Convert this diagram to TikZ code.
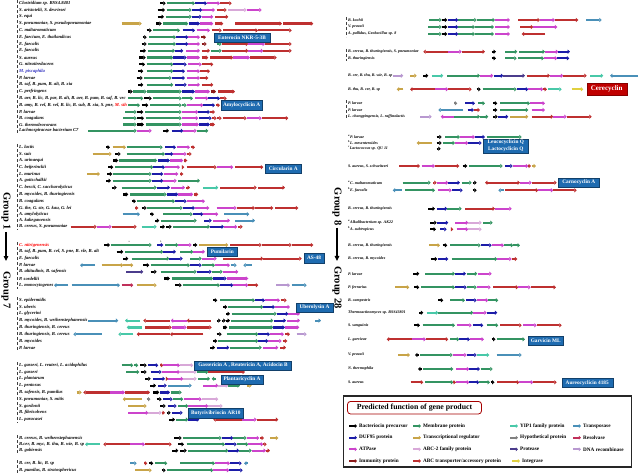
\documentclass[tikz,border=0pt]{standalone}
\usepackage{fontspec}
\setmainfont{Liberation Serif}
\usetikzlibrary{arrows.meta,positioning}

% gene product colours
\definecolor{pre}{HTML}{000000}
\definecolor{mem}{HTML}{349462}
\definecolor{duf}{HTML}{1C1CA8}
\definecolor{atp}{HTML}{CC44CC}
\definecolor{imm}{HTML}{8B1A1A}
\definecolor{trr}{HTML}{C8A448}
\definecolor{abt}{HTML}{D8A8D8}
\definecolor{abc}{HTML}{BE3030}
\definecolor{yip}{HTML}{48C8A8}
\definecolor{hyp}{HTML}{808080}
\definecolor{prt}{HTML}{4B3C8C}
\definecolor{itg}{HTML}{E0D040}
\definecolor{tsp}{HTML}{4A90B8}
\definecolor{rsv}{HTML}{C0305A}
\definecolor{rec}{HTML}{B898D0}
\definecolor{boxblue}{HTML}{1E6BB0}
\definecolor{boxred}{HTML}{C00000}
\definecolor{nameblue}{HTML}{3030C0}

\tikzset{
  gene/.style={line width=2.2pt, -{Triangle[length=2.4pt,width=4.2pt]}},
  strain/.style={anchor=west, inner sep=0pt, font=\fontsize{4.6}{5}\selectfont\bfseries\itshape},
  namebox/.style={fill=boxblue, draw=boxblue!60!black, text=white, align=center,
    font=\fontsize{5.3}{6}\selectfont\bfseries, inner sep=1.5pt, minimum height=9.5pt},
  grp/.style={font=\fontsize{10.5}{11}\selectfont\bfseries, inner sep=1pt, rotate=-90},
  blockline/.style={densely dashed, line width=0.5pt, black!75},
  grouparrow/.style={line width=1.1pt, -{Triangle[length=5pt,width=4.5pt]}},
  legarrow/.style={line width=2pt, -{Triangle[length=2.2pt,width=3.8pt]}},
  legtext/.style={anchor=west, inner sep=0pt, font=\fontsize{5.2}{6}\selectfont\bfseries},
}

\newcount\rowno
% #1 x of label, #2 y of row, #3 strain, #4 genes start/end/colour
\newcommand{\generow}[4]{%
  \global\advance\rowno by 1
  \node[strain] (s\the\rowno) at (#1,#2) {#3};
  \foreach \xs/\xe/\col in {#4}{\draw[gene,color=\col] (\xs,#2) -- (\xe,#2);}
}

\begin{document}
\begin{tikzpicture}[x=1pt, y=-1pt, >=Latex]
  \fill[white] (0,0) rectangle (640,476);
  \useasboundingbox (0,0) rectangle (640,476);

  % ---------------- left column ----------------
  \draw[blockline] (17.5,0.5) -- (17.5,134);
  \generow{19}{3.3}{Clostridium sp. BSS4.8401}{160/165.7/pre, 166.7/195/mem, 195/207/duf, 207/220/atp, 220/231.7/abc}
  \generow{19}{10}{S. aristotelii, S. devriesei}{157.7/165/pre, 166.7/191.7/mem, 192.3/202.3/duf, 202.3/215/atp, 216.7/226.7/abc, 228.3/246.7/abt, 246.7/261.7/atp}
  \generow{19}{16.8}{S. equi}{157.7/164/pre, 165.7/191.7/mem, 191.7/201.7/duf, 201.7/213.3/atp, 215/228.3/abc}
  \generow{19}{23.6}{S. pneumoniae, S. pseudopneumoniae}{121.7/141.7/trr, 156/161.7/pre, 163.3/188.3/mem, 189/200/duf, 200/213.3/atp, 215/223.3/abc, 235/282/abc, 283.3/313.3/abc}
  \generow{19}{30.4}{C. maltaromaticum}{146.7/151.7/pre, 153.3/180/mem, 182.7/195/duf, 196.7/210/atp, 211.7/221.7/abc, 223.3/258/abc, 258/291.7/abc}
  \generow{19}{37.2}{E. faecium, E. thailandicus}{142.7/146.7/pre, 149/176/mem, 176/188.3/duf, 188.3/200/atp, 201/206/imm}
  \generow{19}{44}{E. faecalis}{141.7/146.7/pre, 148.3/176/mem, 176/188.3/duf, 188.3/200/atp, 201.7/206.7/imm, 216.7/221.7/mem, 221.7/248.3/abc, 248.3/265/atp, 265/291.7/abc}
  \generow{19}{50.8}{E. faecalis}{140/146/pre, 147.7/175/mem, 175/183.3/duf, 186/200/atp, 201.7/210/abc, 210.7/221.7/mem, 222.3/248.3/abc, 248.3/263.3/atp, 263.3/291.7/abc}
  \generow{19}{57.6}{S. aureus}{139.3/145.7/pre, 146.7/173.3/mem, 173.3/186.7/duf, 186.7/200/atp, 201.7/208.3/abc, 210/233.3/abc, 233.3/250/atp, 250/276.7/abc}
  \generow{19}{64.4}{G. nitratireducens}{139.3/145/pre, 146.7/173.3/mem, 173.3/186.7/duf, 188.3/201.7/atp, 201.7/213.3/abc}
  \generow{19}{71.2}{\textcolor{nameblue}{M. piscaphila}}{138.3/143.3/pre, 146.7/173.3/mem, 173.3/185/duf, 186.7/200/atp, 200/210/abc}
  \generow{19}{78}{P. larvae}{136.7/142.7/pre, 144/171.7/mem, 171.7/185/duf, 186.7/200/atp, 200/208.3/abc}
  \generow{19}{84.8}{B. saf, B. pum, B. alt, B. xia}{138.3/143.3/pre, 146.7/173.3/mem, 175/186.7/duf, 188.3/200/atp, 201.7/213.3/abc}
  \generow{19}{91.6}{C. perfringens}{128.3/132.7/pre, 133.3/146.7/mem, 146.7/181.7/mem, 181.7/195/duf, 195/210/atp, 210.7/216/imm, 218.3/235/abc}
  \generow{19}{98.4}{B. aer, B. lic, B. par, B. alt, B. aer, B. pum, B. saf, B. vec}{128.3/143.3/mem, 144/151.7/pre, 153.3/181.7/mem, 181.7/193/mem, 195/208.3/atp, 208.3/220/duf, 220/226.7/abc}
  \generow{19}{105.2}{B. amy, B. vel, B. vel, B. lic, B. sub, B. xia, S. pne, \textcolor{red}{M. sth}}{128.3/140/mem, 141.7/148.3/pre, 150/181.7/mem, 181.7/186.7/mem, 186.7/203.3/atp, 203.3/215/duf, 216/220/abc}
  \generow{19}{112}{P. larvae}{125/136.7/mem, 137.3/143.3/pre, 145/181.7/mem, 181.7/198.3/atp, 198.3/210/duf, 210/215/abc}
  \generow{19}{118.2}{B. coagulans}{123.3/136.7/mem, 137.3/144/pre, 145.7/181.7/mem, 181.7/198.3/atp, 199.3/211.7/duf, 212.3/216.7/abc, 217.3/221.7/abc, 222.7/246.7/abc, 246.7/261.7/atp, 261.7/288.3/abc}
  \generow{19}{124.5}{G. thermoleovorans}{123.3/136.7/mem, 137.3/144/pre, 145.7/181.7/mem, 181.7/199/atp, 199/210/duf, 210/215/abc}
  \generow{19}{130.8}{Lachnospiraceae bacterium C7}{88.3/136.7/mem, 136.7/151.7/atp, 163.3/169/pre, 171.7/183.3/duf, 183.3/196.7/atp, 196.7/208.3/mem}

  \draw[blockline] (17.5,144) -- (17.5,229.5);
  \generow{19}{147.3}{L. lactis}{106/110/pre, 112.7/126/trr, 126.7/162.7/mem, 165/176/duf, 176.7/190/atp, 190.7/195/abc}
  \generow{19}{154}{S. suis}{92.7/111.7/trr, 115/120.7/pre, 126.7/165/mem, 165/173.3/duf, 173.3/186.7/atp, 187.3/191.7/abc}
  \generow{19}{160.5}{A. urinaequi}{113.3/118.3/pre, 119.3/157.3/mem, 158.3/170/duf, 170/183.3/atp, 184/187.3/abc}
  \generow{19}{167.2}{C. beijerinckii}{108.3/113.3/pre, 115/153.3/mem, 153.3/165/duf, 165/180/atp, 181.7/184.3/abc, 186.7/216.7/abc, 216.7/233.3/atp, 235/263.3/abc}
  \generow{19}{174}{L. murinus}{87.3/100/trr, 107.3/112.3/pre, 113.3/151.7/mem, 151.7/163.3/duf, 164/178.3/atp, 180/183.3/abc}
  \generow{19}{180.8}{A. gottschalkii}{106/111/pre, 112.7/151.7/mem, 151.7/163.3/duf, 163.3/176.7/atp, 178.3/200/mem}
  \generow{19}{187.6}{C. bescii, C. saccharolyticus}{111.7/116.7/pre, 121.7/156.7/mem, 157.3/170/duf, 170.7/185/atp, 186/190/abc, 203.3/218.3/yip, 220/256.7/abc, 258.3/285/abc}
  \generow{19}{194.4}{B. mycoides, B. thuringiensis}{123.3/128.3/pre, 130/166.7/mem, 166.7/178.3/duf, 178.3/193.3/atp, 194/198.3/abc}
  \generow{19}{201.2}{B. coagulans}{131.7/136/pre, 136.7/175/mem, 175/186.7/duf, 186.7/205/atp}
  \generow{19}{208}{G. the, G. ste, G. kau, G. lei}{135/138.3/abc, 141.7/146.7/pre, 146.7/182.7/mem, 182.7/195/duf, 195/209.3/atp, 216.7/236.7/atp, 236.7/255/abc, 255/273.3/abc, 275/298.3/abc}
  \generow{19}{214.2}{A. amylolyticus}{122.7/140/tsp, 150/154/pre, 163.3/192.7/mem, 192.7/203.3/duf, 203.3/218.3/atp, 224/249.3/tsp}
  \generow{19}{220.6}{A. kakegawensis}{155/159.3/pre, 160.7/196.7/mem, 204/211.7/duf, 213.3/230/atp, 235/255/tsp}
  \generow{19}{226.8}{B. cereus, S. pneumoniae}{70.7/96.7/abc, 96.7/111.7/atp, 111.7/136.7/abc, 141.7/156.7/yip, 160/165/pre, 166/171.7/pre, 173.3/210/mem, 210/224/duf, 224/237.3/atp, 238.3/242.7/abc}

  \draw[blockline] (17.5,242) -- (17.5,288.5);
  \generow{19}{245}{\textcolor{red}{C. nitrigenensis}}{104/110/pre, 110.7/151.7/mem, 157.3/163.3/duf, 165/178.3/mem, 178.3/191.7/atp, 193.3/197.3/pre, 199.3/228.3/trr, 230/261.7/abc, 261.7/291.7/abc, 291.7/313.3/abc}
  \node[font=\fontsize{2.5}{3}\selectfont, inner sep=0pt] (marka) at (129.3,241.6) {a};
  \node[font=\fontsize{2.5}{3}\selectfont, inner sep=0pt] (markb) at (160.7,241.2) {b};
  \generow{19}{251.8}{B. saf, B. pum, B. cel, S. pne, B. vle, B. alt}{116.7/123.3/pre, 125/163.3/mem, 163.3/176/duf, 180/193.3/mem, 193.3/205/atp}
  \generow{19}{258.6}{E. faecalis}{123.3/128.3/pre, 131.7/169.3/mem, 169.3/182.7/duf, 190/201.7/mem, 201.7/216.7/atp, 223.3/263.3/abc, 263.3/301.7/abc}
  \generow{19}{265.2}{P. larvae}{95/80/tsp, 101.7/123.3/trr, 123.3/133.3/trr, 143.3/149.3/pre, 150.7/190/mem, 190/201.7/duf, 201.7/215/mem, 215/230/atp, 230.7/236.7/tsp, 251.7/243.3/tsp}
  \generow{19}{271.8}{B. altitudinis, B. safensis}{126/143.3/prt, 150.7/156.7/pre, 160.7/196.7/mem, 196.7/211.7/duf, 211.7/222.7/mem, 222.7/238.3/atp}
  \generow{19}{278.5}{P. sordellii}{164/170/pre, 171.7/213.3/mem, 213.3/226.7/duf, 226.7/248.3/atp}
  \generow{19}{285.2}{L. monocytogenes}{68.3/54/tsp, 71.7/120/tsp, 121.7/133.3/rsv, 136.7/156.7/trr, 175/181.7/pre, 182.7/220/mem, 220/233.3/duf, 233.3/248.3/atp, 248.3/258.3/abc, 276/290/rec, 291.7/306.7/tsp}

  \draw[blockline] (17.5,297) -- (17.5,350.5);
  \generow{19}{300.3}{S. epidermidis}{213.3/217.3/pre, 220/255/mem, 255/265/duf, 265/280/atp, 280.7/286.7/abc}
  \generow{19}{307}{S. uberis}{223.3/227.3/pre, 228.3/263.3/mem, 263.3/275/duf, 275/290/atp}
  \generow{19}{313.8}{L. glycerini}{226/230/pre, 231.7/276.7/mem, 276.7/288.3/duf, 288.3/300/atp}
  \generow{19}{320.6}{B. mycoides, B. weihenstephanensis}{88.3/118.3/tsp, 140/125/yip, 170/143.3/abc, 186.7/170.7/atp, 210.7/186.7/abc, 216.7/220.7/pre, 221.7/225.7/pre, 226/230/pre, 230.7/273.3/mem, 274/286/duf, 286.7/300/atp, 315/321/tsp}
  \generow{19}{327.4}{B. thuringiensis, B. cereus}{141.7/126.7/yip, 145/171.7/abc, 171.7/186.7/atp, 186.7/211.7/abc, 222.7/227.3/pre, 229.3/273.3/mem, 273.3/285/duf, 285/299.3/atp}
  \generow{19}{334.2}{B. thuringiensis, B. cereus}{101.7/73.3/tsp, 133.3/118.3/yip, 170/136.7/abc, 203.3/170/abc, 216.7/221.7/pre, 226.7/258.3/mem, 258.3/270/duf, 270/284/atp, 285/290/abc, 296.7/306.7/rec}
  \generow{19}{341}{B. mycoides}{213.3/217.3/pre, 218.3/258.3/mem, 258.3/268.3/duf, 268.3/281.7/atp, 282.7/287.3/abc}
  \generow{19}{347.6}{P. larvae}{210/215/pre, 216.7/229.3/duf, 230/261.7/mem, 263.3/278.3/atp, 280/286/abc}

  \draw[blockline] (17.5,362) -- (17.5,423);
  \generow{19}{365.3}{L. gasseri, L. reuteri, L. acidophilus}{121.7/133.3/mem, 134/138.3/mem, 140/146.7/pre, 148.3/158.3/duf, 160/163.3/abc, 163.3/180/atp, 180/193.3/abt}
  \generow{19}{372}{L. gasseri}{126/139.3/mem, 140.7/146.7/pre, 150.7/161.7/duf, 161.7/180/atp, 180/196.7/abt, 196.7/208.3/mem, 208.3/245/abc}
  \generow{19}{378.8}{L. plantarum}{145/150.7/pre, 153.3/165/duf, 166/168.3/abc, 168.3/183.3/atp, 183.3/196.7/abt, 198.3/210/mem, 216/211.7/mem}
  \generow{19}{385.6}{L. pentosus}{150/156/pre, 158.3/166.7/duf, 168.3/191.7/tsp, 203.3/218.3/atp, 218.3/228.3/abt, 228.3/240/mem, 247.3/251.7/trr}
  \generow{19}{392.4}{B. safensis, B. pumilus}{76.7/81.7/trr, 110/83.3/abc, 110/125/atp, 125/150/abc, 153.3/159.3/pre, 160/170/duf, 170.7/181.7/mem}
  \generow{19}{399.2}{S. pneumoniae, S. mitis}{141.7/122.7/trr, 146.7/150.5/hyp, 156.7/161.7/pre, 163.3/172.7/duf, 173.3/183.3/mem, 184/201.7/atp, 201.7/218.3/abt}
  \generow{19}{406}{S. gordonii}{128.3/146.7/trr, 160/165.7/pre, 167.7/176.7/duf, 178.3/188.3/mem, 188.3/208.3/atp, 208.3/222.7/abt}
  \generow{19}{412.8}{B. fibrisolvens}{128.3/148.3/atp, 148.3/161.7/abt, 161.7/165/abc, 166.7/170.7/pre, 171.7/182.7/duf}
  \generow{19}{419.6}{L. paracasei}{169.3/175/pre, 176/188.3/mem, 188.3/199.3/duf, 241.7/213.3/abc, 241.7/256.7/atp, 256.7/278.3/abc}

  \draw[blockline] (17.5,435) -- (17.5,453.5);
  \generow{19}{438}{B. cereus, B. weihenstephanensis}{174/181.7/pre, 183.3/221.7/mem, 221.7/233.3/duf, 233.3/246.7/mem, 246.7/259.3/atp, 260/264/abc, 270/278.3/trr}
  \generow{19}{444.3}{B.cer, B. myc, B. thu, B. wie, B. sp}{100/85/yip, 130/103.3/abc, 130/145/atp, 145/171.7/abc, 178.3/184/pre, 186.7/225/mem, 225/236.7/duf, 236.7/248.3/mem, 248.3/263.3/atp, 263.3/266.7/abc}
  \generow{19}{450.6}{B. gobiensis}{172.3/178.3/pre, 180/186.7/pre, 188.3/228.3/mem, 228.3/239.3/duf, 239.3/251.7/mem, 251.7/266/atp, 266/270/abc}

  \draw[blockline] (17.5,460) -- (17.5,473.5);
  \generow{19}{463.3}{B. cer, B. lic, B. sp}{130/136.7/tsp, 144/147.3/abc, 149.3/153.3/pre, 155/167.3/mem, 180/215/mem, 215/230/atp, 230/241.7/duf, 248/244/tsp}
  \generow{19}{470.3}{B. pumilus, B. stratosphericus}{135/151.7/trr, 161.7/165.7/pre, 166.7/213.3/mem, 213.3/229.3/atp, 229.3/242.7/duf}

  % bacteriocin names, left column
  \node[namebox, minimum width=56pt] (enterocin) at (242,37.7) {Enterocin NKR-5-3B};
  \node[namebox, minimum width=40pt] (amylocyclicin) at (241.7,105.3) {Amylocyclicin A};
  \node[namebox, minimum width=36pt] (circularin) at (283.3,168.7) {Circularin A};
  \node[namebox, minimum width=30pt] (pumilarin) at (222.3,251.8) {Pumilarin};
  \node[namebox, minimum width=20pt] (as48) at (314,258) {AS-48};
  \node[namebox, minimum width=37pt] (uberolysin) at (314.5,307.6) {Uberolysin A};
  \node[namebox, minimum width=97pt] (gassericin) at (243,365.5) {Gassericin A , Reutericin A, Acidocin B};
  \node[namebox, minimum width=42pt] (plantaricyclin) at (242,379.5) {Plantaricyclin A};
  \node[namebox, minimum width=55pt] (butyrivibriocin) at (215.8,413.2) {Butyrivibriocin AR10};

  % ---------------- right column ----------------
  \begin{scope}[strain/.append style={font=\fontsize{4}{4.5}\selectfont\bfseries\itshape}]
  \draw[blockline] (346.5,17) -- (346.5,37);
  \generow{348}{20}{B. kochii}{429.3/441.7/mem, 441.7/447.3/pre, 448.3/458.3/duf, 458.3/476.7/mem, 476.7/495/mem, 495/510/atp, 518.3/540/abc, 540/555/atp, 555/578.3/abc, 586/601.7/tsp}
  \generow{348}{27}{V. pravaii}{428.3/441.7/mem, 441.7/447.3/pre, 448.3/458.3/duf, 458.3/475/mem, 475/494/mem, 495/510/atp, 520/533.3/abc, 533.3/557.3/atp}
  \generow{348}{34}{A. pallidus, Geobacillus sp. 8}{428.3/441.7/mem, 441.7/447.3/pre, 448.3/458.3/duf, 458.3/475/mem, 475/494/mem, 495/510/atp, 545/521.7/abc}

  \draw[blockline] (346.5,49) -- (346.5,61);
  \generow{348}{51.7}{B. cereus, B. thuringiensis, S. pneumoniae}{448.3/423.3/abc, 448.3/461.7/atp, 461.7/485/abc, 491.7/496/pre, 505/517.3/mem, 519.3/545/mem, 545/558.3/atp, 558.3/570/duf}
  \generow{348}{58.3}{B. thuringiensis}{491.7/496/pre, 505/516.7/mem, 518.3/544/mem, 544/557.3/atp, 557.3/569.3/duf}

  \generow{348}{75.7}{B. cer, B. thu, B. wie, B. sp}{392.7/403.3/rec, 410/416.7/trr, 423.3/428.3/pre, 431.7/443.3/yip, 447.3/480/mem, 480/493.3/atp, 494/503.3/duf, 503.3/525/prt, 526.7/550/abc, 550/563.3/atp, 563.3/586.7/abc, 590/603.3/yip, 638/610/tsp}
  \generow{348}{89.3}{B. thu, B. cer, B. sp}{403.3/396.7/trr, 435/410/abc, 435/448.3/atp, 448.3/471.7/abc, 476.7/480.7/pre, 482.7/516.7/mem, 516.7/528.3/duf, 528.3/543.3/atp, 543.3/547/abc, 548.3/561.7/yip, 571.7/583.3/itg}
  \node[namebox, fill=boxred, draw=boxred!70!black, minimum width=40pt, minimum height=11.7pt,
        font=\fontsize{7}{8}\selectfont\bfseries] (cerecyclin) at (606.7,89.2) {Cerecyclin};

  \draw[blockline] (346.5,100.5) -- (346.5,119.5);
  \generow{348}{103.3}{P. larvae}{454/457.3/hyp, 465/475/duf, 478.3/485/mem, 493.3/497.3/pre, 500/530/mem, 530/545/atp}
  \generow{348}{110}{P. larvae}{463.3/438.3/tsp, 467.7/474/duf, 474/480/abc, 493.3/497.3/pre, 500/528.3/mem, 531.7/545/atp}
  \generow{348}{116.7}{L. changpingensis, L. raffinolactis}{420/431.7/rec, 454/440.7/atp, 454/480/mem, 480/488.3/mem, 493.3/497.7/pre, 498.3/508.3/duf, 510/528.3/trr, 531.7/553.3/abc, 553.3/566.7/atp, 566.7/591.7/abc}

  \generow{348}{137}{\textsuperscript{a}P. larvae}{436.7/441.7/pre, 445/460/mem, 460/475/atp, 475/485/duf, 486.7/521.7/mem}
  \generow{348}{143}{\textsuperscript{b}L. mesenteroides}{431.7/416.7/trr, 436.7/441.7/pre, 442.7/455/mem, 455/468.3/atp, 468.3/481.7/duf}
  \generow{348}{148.7}{\textsuperscript{c}Lactococcus sp. QU 11}{436.7/440.7/pre}
  \node[namebox, minimum width=45pt, font=\fontsize{5.3}{6.2}\selectfont\bfseries] (leucocyclicin) at (505.8,145.8) {Leucocyclicin Q\\Lactocyclicin Q};

  \generow{348}{166}{S. aureus, S. schweitzeri}{399.3/420/abc, 421.7/435/atp, 435/459.3/abc, 462.7/467.3/pre, 469.3/502.7/mem, 505/512.7/duf, 512.7/528.3/atp, 528.3/531/abc, 531.7/536/trr}

  \generow{348}{182.7}{\textsuperscript{a}C. maltaromaticum}{402.7/430.7/mem, 433.3/436.7/abc, 436.7/448.3/atp, 448.3/460/duf, 461.7/471.7/mem, 472.7/476.7/pre, 493.3/485/abc, 493.3/520/abc, 520/531.7/atp, 531.7/556.7/abc}
  \generow{348}{190.3}{\textsuperscript{b}E. faecalis}{401.7/392.7/tsp, 405/435/mem, 438.3/451.7/atp, 452.3/462.7/duf, 472.7/476.7/pre, 504/498.3/tsp, 505/538.3/abc, 538.3/553.3/atp, 553.3/576.7/abc}
  \node[namebox, minimum width=41pt] (carnocyclin) at (578.8,182.5) {Carnocyclin A};

  \generow{348}{208.7}{B. cereus, B. thuringiensis}{428.3/435/pre, 436.7/447.3/duf, 447.3/461.7/mem, 465/495/abc, 495/511.7/atp}

  \generow{348}{222.7}{\textsuperscript{a}Alkalibacterium sp. AK22}{430/436.7/pre, 436.7/448.3/duf, 455/468.3/atp, 468.3/481.7/abt, 483.3/492.7/mem}
  \generow{348}{229.3}{\textsuperscript{b}A. subtropicus}{430/436/pre, 440/446.7/duf, 451.7/453.3/abc, 456.7/468.3/atp, 468.3/481.7/abt}

  \generow{348}{245.3}{B. cereus, B. thuringiensis}{429.3/440/trr, 442.7/447.3/pre, 450/480.7/mem, 480.7/491.7/duf, 491.7/504/atp, 504/513.3/mem, 513.3/520/mem}
  \generow{348}{259}{B. cereus, B. mycoides}{430.7/437.3/pre, 438.3/448.3/duf, 451.7/497.3/mem, 497.3/511.7/atp, 511.7/517.3/abc}
  \generow{348}{273.7}{P. larvae}{413.3/419.3/pre, 425/455/mem, 455/466/duf, 466.7/477.3/mem, 478.3/491.7/atp}
  \generow{348}{287.3}{P. ferrarius}{395/409.3/trr, 414.3/419.3/pre, 421/455/mem, 455/466.7/duf, 466.7/476.7/mem, 476.7/490.7/atp, 493.3/518.3/abc, 518.3/530.7/atp, 530.7/556/abc}
  \generow{348}{300.3}{B. campestris}{438.3/443.3/pre, 450/465/mem, 466/476.7/duf, 476.7/488.3/atp, 488.3/498.3/mem}
  \generow{348}{312.7}{Thermoactinomyces sp. BSS43801}{419.3/423.3/pre, 426.7/438.3/yip, 438.3/473.3/mem, 473.3/486.7/atp, 486.7/497.3/duf}
  \generow{348}{325.3}{S. sanguinis}{414.3/420/pre, 422.7/455/mem, 456.7/471.7/atp, 472.7/483.3/duf, 486.7/498.3/mem, 500/521.7/abc, 523.3/536.7/atp, 537.3/561.7/abc}
  \generow{348}{339.3}{L. garvieae}{411.7/386.7/abc, 411.7/426/atp, 426/448.3/abc, 450/459.3/mem, 459.3/470/duf, 470/484/atp, 491.7/495.5/pre, 496.7/525/mem}
  \node[namebox, minimum width=35pt] (garvicin) at (545.8,340.5) {Garvicin ML};
  \generow{348}{355}{V. pravaii}{398.3/410/trr, 419/415/pre, 420/452.7/mem, 452.7/466.7/atp, 466.7/476.7/duf, 476.7/489.3/yip, 496.7/521.7/tsp}
  \generow{348}{369}{N. thermophila}{422/418/pre, 423.3/453.3/mem, 456/469.3/atp, 469.3/480/duf, 480.7/492.7/mem}
  \generow{348}{382.3}{S. aureus}{410.7/423.3/abc, 425/453.3/mem, 453.3/456/abc, 456/469.3/atp, 469.3/479.3/duf, 479.3/490/mem, 490.7/494.5/pre, 497.3/519.3/abc, 519.3/533.3/atp, 533.3/556.7/abc}
  \node[namebox, minimum width=51pt] (aureocyclicin) at (587.2,382.8) {Aureocyclicin 4185};
  \end{scope}

  % ---------------- group labels ----------------
  \node[grp] (g1) at (6,211) {Group 1};
  \node[grp] (g7) at (6,290) {Group 7};
  \draw[grouparrow, shorten <=1pt, shorten >=9pt] (g1) -- (g7);
  \node[grp] (g8) at (337,206.7) {Group 8};
  \node[grp] (g28) at (337,287.5) {Group 28};
  \draw[grouparrow, shorten <=1pt, shorten >=4pt] (g8) -- (g28);

  % ---------------- legend ----------------
  \draw[line width=1.4pt, gray!30!black] (343.3,396) rectangle (631.7,467);
  \node[draw=red!65!black, line width=0.8pt, rounded corners=3pt, fill=white,
        font=\fontsize{7.8}{8}\selectfont\bfseries, minimum width=134pt, minimum height=12.5pt,
        inner sep=1.5pt] (legtitle) at (414.5,407.7) {Predicted function of gene product};
  \foreach \lx/\ly/\col/\txt [count=\i] in {
      349/426/pre/Bacteriocin precursor, 413/426/mem/Membrane protein,
      510/426/yip/YIP1 family protein, 573/426/tsp/Transposase,
      349/437.7/duf/DUF95 protein, 413/437.7/trr/Transcriptional regulator,
      510/437.7/hyp/Hypothetical protein, 573/437.7/rsv/Resolvase,
      349/449.3/atp/ATPase, 413/449.3/abt/ABC-2 family protein,
      510/449.3/prt/Protease, 573/449.3/rec/DNA recombinase,
      349/461/imm/Immunity protein, 413/461/abc/{ABC transporter/accessory protein},
      512/461/itg/Integrase}{
    \coordinate (lk\i) at (\lx,\ly);
    \draw[legarrow, color=\col] (lk\i) -- ++(8,0);
    \node[legtext] (leg\i) at ([xshift=10pt]lk\i) {\txt};
  }
\end{tikzpicture}
\end{document}
